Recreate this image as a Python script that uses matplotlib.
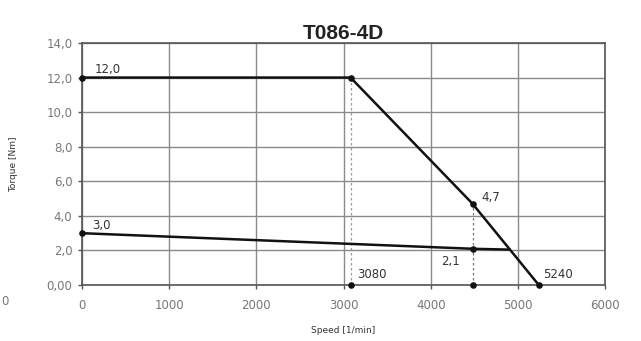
import matplotlib.pyplot as plt
import numpy as np

# torque/speed characteristic of the T086-4D motor
peak_speed = [0, 3080, 4480, 5240]
peak_torque = [12.0, 12.0, 4.7, 0.0]
cont_speed = [0, 4480, 4900]
cont_torque = [3.0, 2.1, 2.05]

x_ticks = [0, 1000, 2000, 3000, 4000, 5000, 6000]
y_ticks = [0, 2, 4, 6, 8, 10, 12, 14]
y_labels = ['0,00', '2,0', '4,0', '6,0', '8,0', '10,0', '12,0', '14,0']


def fmt(v):
    return ('%.1f' % v).replace('.', ',')


fig = plt.figure(figsize=(6.41, 3.41), dpi=100)
ax = fig.add_axes([0.128, 0.164, 0.816, 0.71])

ax.set_xlim(0, 6000)
ax.set_ylim(0, 14)
ax.set_xticks(x_ticks)
ax.set_yticks(y_ticks)
ax.set_yticklabels(y_labels)
ax.grid(True, color='#8a8a8a', lw=1.0)
ax.set_axisbelow(True)
for s in ax.spines.values():
    s.set_color('#555555')
    s.set_linewidth(1.2)
ax.tick_params(labelsize=8.5, colors='#555555', length=3, width=1, pad=4)
ax.tick_params(axis='x', pad=7)
for lbl in ax.get_xticklabels() + ax.get_yticklabels():
    lbl.set_color('#777777')

# guide lines down to the speed axis
ax.plot([peak_speed[1]] * 2, [0, peak_torque[1]], ls=(0, (2, 2)), color='#999999', lw=0.9)
ax.plot([peak_speed[2]] * 2, [0, peak_torque[2]], ls=(0, (2, 2)), color='#777777', lw=0.9)

ax.plot(peak_speed, peak_torque, color='#111111', lw=1.8, clip_on=False)
ax.plot(cont_speed, cont_torque, color='#111111', lw=1.8, clip_on=False)

pts_x = [0, 3080, 4480, 0, 4480, 3080, 4480, 5240]
pts_y = [12.0, 12.0, 4.7, 3.0, 2.1, 0, 0, 0]
ax.scatter(pts_x, pts_y, s=14, color='#111111', zorder=5, clip_on=False)

lab_kw = dict(textcoords='offset points', fontsize=8.5, color='#333333')
ax.annotate(fmt(peak_torque[0]), (0, 12.0), xytext=(9, 3), **lab_kw)
ax.annotate(fmt(cont_torque[0]), (0, 3.0), xytext=(7, 3), **lab_kw)
ax.annotate(fmt(peak_torque[2]), (4480, 4.7), xytext=(6, 2), **lab_kw)
ax.annotate(fmt(cont_torque[1]), (4480, 2.1), xytext=(-23, -12), **lab_kw)
ax.annotate(str(peak_speed[1]), (3080, 0), xytext=(5, 5), **lab_kw)
ax.annotate(str(peak_speed[3]), (5240, 0), xytext=(3, 5), **lab_kw)

ax.set_title('T086-4D', fontsize=15, fontweight='bold', color='#222222',
             family=['Liberation Sans Narrow', 'Liberation Sans'], pad=3)
ax.set_xlabel('Speed [1/min]', fontsize=6.5, color='#333333', labelpad=10)
ax.set_ylabel('Torque [Nm]', fontsize=6.5, color='#333333', labelpad=20)

fig.text(0.002, 0.105, '0', fontsize=8.5, color='#777777')

fig.savefig('out.png', dpi=100)
